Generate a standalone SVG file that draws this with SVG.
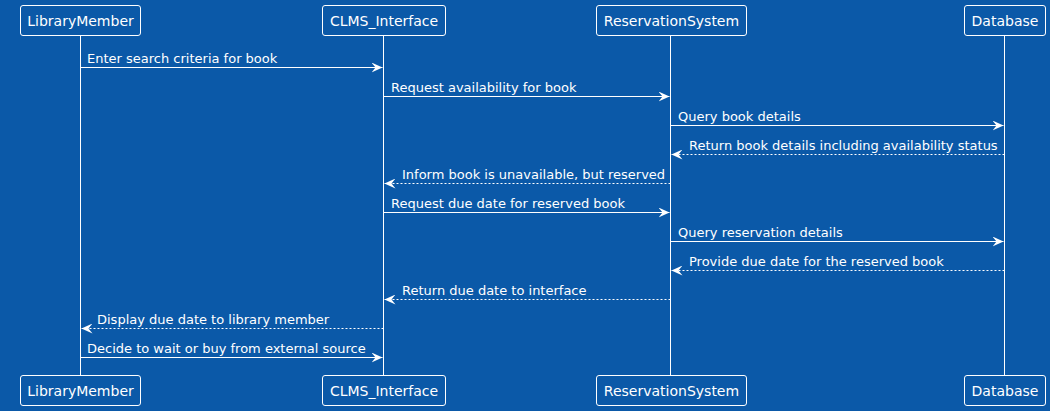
<svg xmlns="http://www.w3.org/2000/svg" width="1050" height="411" viewBox="0 0 1050 411">
<defs>
<style>
.box{fill:#0b59a8;stroke:#ffffff;stroke-width:1}
.life{stroke:#ffffff;stroke-width:1}
.pt{font-family:"DejaVu Sans",sans-serif;font-size:14px;fill:#ffffff;text-anchor:middle}
.mt{font-family:"DejaVu Sans",sans-serif;font-size:13px;fill:#ffffff}
.msg{stroke:#ffffff;stroke-width:1;fill:none}
.ret{stroke:#ffffff;stroke-width:1;fill:none;stroke-dasharray:2,2}
</style>
<marker id="ah" viewBox="0 0 11 10" refX="11" refY="5" markerWidth="11" markerHeight="10" markerUnits="userSpaceOnUse" orient="auto">
<polygon points="0,0 11,5 0,10 4,5" fill="#ffffff"/>
</marker>
</defs>
<rect width="1050" height="411" fill="#0b59a8"/>
<g id="lifelines">
<line class="life" x1="80.5" y1="35.5" x2="80.5" y2="375.5"/>
<line class="life" x1="383.5" y1="35.5" x2="383.5" y2="375.5"/>
<line class="life" x1="670.5" y1="35.5" x2="670.5" y2="375.5"/>
<line class="life" x1="1004.5" y1="35.5" x2="1004.5" y2="375.5"/>
</g>
<g id="LibraryMember">
<rect class="box" x="20.5" y="5.5" width="120" height="30" rx="2.5"/>
<text class="pt" x="80.5" y="25.5">LibraryMember</text>
<rect class="box" x="20.5" y="375.5" width="120" height="30" rx="2.5"/>
<text class="pt" x="80.5" y="395.5">LibraryMember</text>
</g>
<g id="CLMS_Interface">
<rect class="box" x="322.5" y="5.5" width="123" height="30" rx="2.5"/>
<text class="pt" x="384" y="25.5">CLMS_Interface</text>
<rect class="box" x="322.5" y="375.5" width="123" height="30" rx="2.5"/>
<text class="pt" x="384" y="395.5">CLMS_Interface</text>
</g>
<g id="ReservationSystem">
<rect class="box" x="596.5" y="5.5" width="150" height="30" rx="2.5"/>
<text class="pt" x="671.5" y="25.5">ReservationSystem</text>
<rect class="box" x="596.5" y="375.5" width="150" height="30" rx="2.5"/>
<text class="pt" x="671.5" y="395.5">ReservationSystem</text>
</g>
<g id="Database">
<rect class="box" x="964.5" y="5.5" width="81" height="30" rx="2.5"/>
<text class="pt" x="1005" y="25.5">Database</text>
<rect class="box" x="964.5" y="375.5" width="81" height="30" rx="2.5"/>
<text class="pt" x="1005" y="395.5">Database</text>
</g>
<g id="connectors">
<line class="msg" x1="80.5" y1="67.5" x2="382.5" y2="67.5" marker-end="url(#ah)"/>
<text class="mt" x="87" y="63">Enter search criteria for book</text>
<line class="msg" x1="383.5" y1="96.5" x2="669.5" y2="96.5" marker-end="url(#ah)"/>
<text class="mt" x="391" y="92">Request availability for book</text>
<line class="msg" x1="670.5" y1="125.5" x2="1003.5" y2="125.5" marker-end="url(#ah)"/>
<text class="mt" x="678" y="121">Query book details</text>
<line class="ret" x1="1004.5" y1="154.5" x2="671.5" y2="154.5" marker-end="url(#ah)"/>
<text class="mt" x="689" y="150">Return book details including availability status</text>
<line class="ret" x1="670.5" y1="183.5" x2="384.5" y2="183.5" marker-end="url(#ah)"/>
<text class="mt" x="402" y="179">Inform book is unavailable, but reserved</text>
<line class="msg" x1="383.5" y1="212.5" x2="669.5" y2="212.5" marker-end="url(#ah)"/>
<text class="mt" x="391" y="208">Request due date for reserved book</text>
<line class="msg" x1="670.5" y1="241.5" x2="1003.5" y2="241.5" marker-end="url(#ah)"/>
<text class="mt" x="678" y="237">Query reservation details</text>
<line class="ret" x1="1004.5" y1="270.5" x2="671.5" y2="270.5" marker-end="url(#ah)"/>
<text class="mt" x="689" y="266">Provide due date for the reserved book</text>
<line class="ret" x1="670.5" y1="299.5" x2="384.5" y2="299.5" marker-end="url(#ah)"/>
<text class="mt" x="402" y="295">Return due date to interface</text>
<line class="ret" x1="383.5" y1="328.5" x2="81.5" y2="328.5" marker-end="url(#ah)"/>
<text class="mt" x="97" y="324">Display due date to library member</text>
<line class="msg" x1="80.5" y1="357.5" x2="382.5" y2="357.5" marker-end="url(#ah)"/>
<text class="mt" x="87" y="353">Decide to wait or buy from external source</text>
</g>
</svg>
